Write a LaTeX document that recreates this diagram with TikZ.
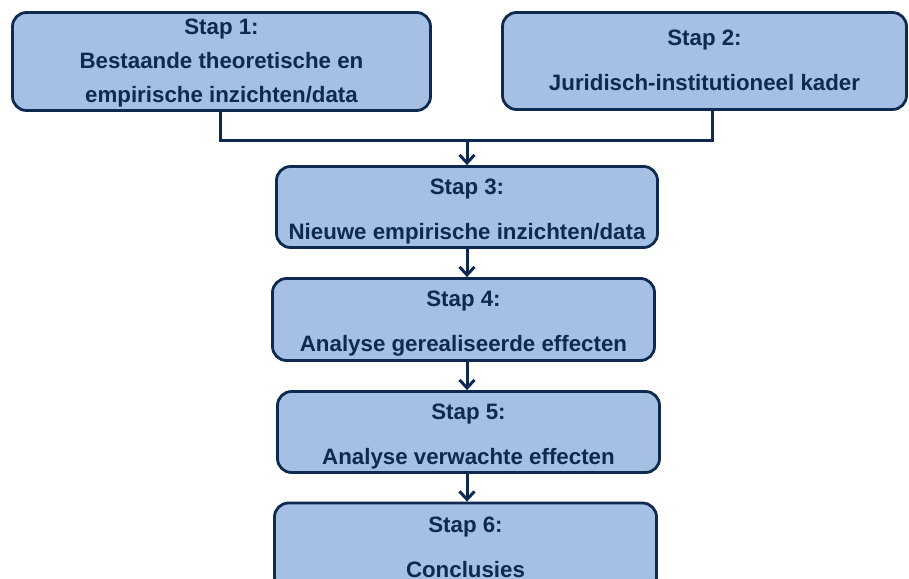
\documentclass[tikz,border=0pt]{standalone}
\usepackage{fontspec}
\setmainfont{Liberation Sans}
\usetikzlibrary{arrows.meta}
\definecolor{boxfill}{RGB}{166,191,228}
\definecolor{navy}{RGB}{14,42,80}
\begin{document}
\begin{tikzpicture}[x=1pt,y=-1pt,
  stepbox/.style={draw=navy, line width=2.8pt, fill=boxfill, rounded corners=14pt, inner sep=0pt},
  steptext/.style={text=navy, align=center, inner sep=0pt, font=\bfseries\fontsize{22.3}{45}\selectfont},
  link/.style={draw=navy, line width=3pt},
  arr/.style={link, -{Straight Barb[length=8pt,width=15pt,line width=3pt]}}]
\useasboundingbox (0,0) rectangle (909,578);
\clip (0,0) rectangle (909,578);
\node[stepbox, minimum width=418pt, minimum height=98pt] (b1) at (221.5,61.5) {};
\node[steptext, font=\bfseries\fontsize{22.3}{34}\selectfont] (t1) at ([yshift=-2pt]b1.center)
  {Stap 1:\\Bestaande theoretische en\\empirische inzichten/data};
\node[stepbox, minimum width=404pt, minimum height=97pt] (b2) at (704.5,61) {};
\node[steptext] (t2) at ([yshift=1pt]b2.center) {Stap 2:\\Juridisch-institutioneel kader};
\node[stepbox, minimum width=381pt, minimum height=81pt] (b3) at (467,207) {};
\node[steptext] (t3) at ([yshift=-5pt]b3.center) {Stap 3:\\Nieuwe empirische inzichten/data};
\node[stepbox, minimum width=382pt, minimum height=82pt] (b4) at (463.5,319.5) {};
\node[steptext] (t4) at ([yshift=-4.5pt]b4.center) {Stap 4:\\Analyse gerealiseerde effecten};
\node[stepbox, minimum width=382pt, minimum height=81pt] (b5) at (468.5,432) {};
\node[steptext] (t5) at ([yshift=-4.5pt]b5.center) {Stap 5:\\Analyse verwachte effecten};
\node[stepbox, minimum width=382pt, minimum height=88pt] (b6) at (465.5,547) {};
\node[steptext] (t6) at (b6.center) {Stap 6:\\Conclusies};
\coordinate (j1) at (220,140);
\coordinate (j2) at (712,140);
\coordinate (jm) at (467,140);
\draw[link] (b1.south -| j1) -- (j1) -- (j2) -- (b2.south -| j2);
\draw[arr] (jm) -- (b3.north -| jm);
\draw[arr] (b3.south -| jm) -- (b4.north -| jm);
\draw[arr] (b4.south -| jm) -- (b5.north -| jm);
\draw[arr] (b5.south -| jm) -- (b6.north -| jm);
\end{tikzpicture}
\end{document}
